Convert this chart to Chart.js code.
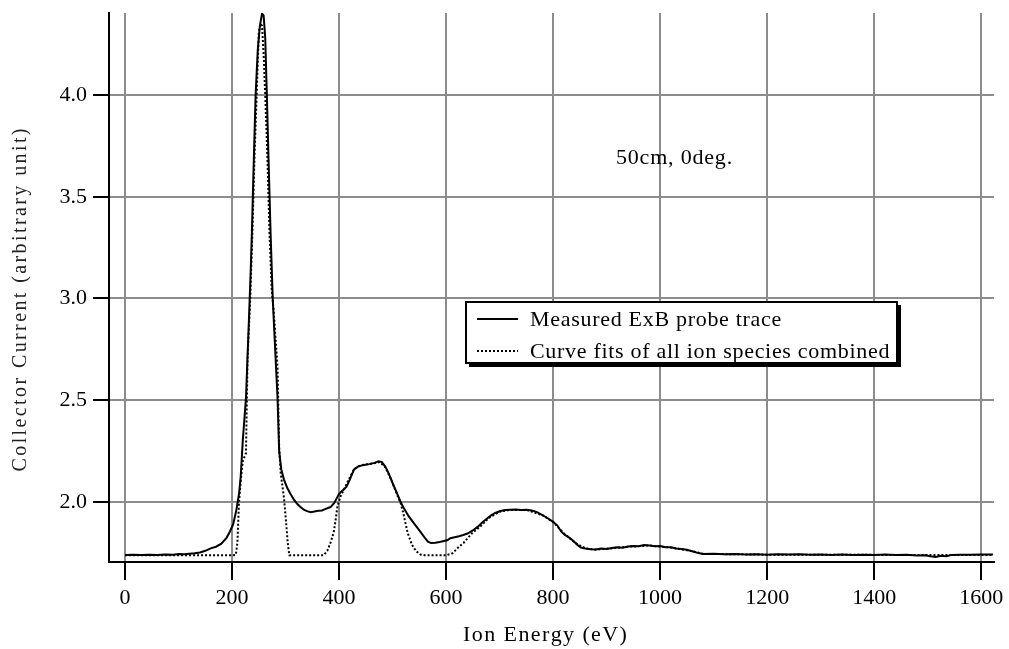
<!DOCTYPE html>
<html>
<head>
<meta charset="utf-8">
<script src="https://cdn.jsdelivr.net/npm/chart.js@4/dist/chart.umd.min.js"></script>
<style>
  body { margin: 0; background: #fff; }
  canvas { display: block; }
</style>
</head>
<body>
<canvas id="exbChart" width="1009" height="649"></canvas>
<script>
// measured ExB probe trace
const measuredE = [0, 15, 30, 45, 60, 75, 90, 100, 110, 120, 130, 140, 150, 160, 170, 180, 190, 196, 202, 208,
    213, 216, 220, 226, 229, 232, 235, 237, 240, 244, 248, 252, 256, 259, 262, 265, 268, 272, 276, 280, 285,
    288, 292, 297, 303, 309, 316, 322, 328, 334, 340, 347, 354, 361, 368, 375, 384, 391, 396, 400, 408,
    414, 420, 428, 436, 446, 456, 466, 474, 480, 486, 491, 496, 502, 508, 515, 522, 530, 540, 550, 560,
    566, 572, 580, 588, 596, 602, 608, 616, 624, 632, 640, 650, 660, 668, 676, 684, 692, 700, 710, 720,
    730, 740, 750, 760, 770, 780, 790, 800, 808, 815, 822, 830, 838, 845, 852, 860, 870, 880, 890, 900,
    910, 920, 930, 940, 950, 960, 970, 980, 990, 1000, 1010, 1020, 1030, 1040, 1050, 1060, 1070, 1080, 1100, 1120,
    1140, 1160, 1180, 1200, 1220, 1240, 1260, 1280, 1300, 1320, 1340, 1360, 1380, 1400, 1420, 1440, 1460, 1480, 1495, 1505,
    1515, 1525, 1535, 1545, 1560, 1580, 1600, 1622];
const measuredI = [1.740, 1.741, 1.739, 1.741, 1.740, 1.742, 1.741, 1.744, 1.743, 1.746, 1.748, 1.752, 1.760, 1.772, 1.780, 1.795, 1.825, 1.855, 1.890, 1.960,
    2.040, 2.120, 2.300, 2.510, 2.720, 2.930, 3.150, 3.320, 3.620, 4.000, 4.220, 4.340, 4.400, 4.390, 4.280, 4.000, 3.700, 3.320, 3.000, 2.780, 2.510,
    2.250, 2.160, 2.110, 2.070, 2.040, 2.010, 1.990, 1.975, 1.962, 1.955, 1.950, 1.953, 1.957, 1.958, 1.966, 1.975, 1.995, 2.020, 2.040, 2.060,
    2.075, 2.110, 2.160, 2.175, 2.182, 2.186, 2.192, 2.200, 2.196, 2.175, 2.150, 2.120, 2.080, 2.045, 2.000, 1.965, 1.930, 1.895, 1.860, 1.825,
    1.805, 1.798, 1.800, 1.803, 1.808, 1.812, 1.822, 1.827, 1.832, 1.838, 1.845, 1.860, 1.880, 1.900, 1.918, 1.934, 1.946, 1.954, 1.960, 1.962,
    1.963, 1.961, 1.962, 1.958, 1.950, 1.936, 1.920, 1.902, 1.884, 1.855, 1.838, 1.825, 1.808, 1.790, 1.776, 1.771, 1.768, 1.767, 1.771, 1.769,
    1.774, 1.777, 1.775, 1.781, 1.784, 1.782, 1.788, 1.786, 1.783, 1.784, 1.778, 1.777, 1.771, 1.769, 1.765, 1.758, 1.750, 1.744, 1.745, 1.743,
    1.744, 1.742, 1.743, 1.741, 1.743, 1.742, 1.743, 1.741, 1.742, 1.740, 1.742, 1.739, 1.741, 1.740, 1.742, 1.739, 1.741, 1.737, 1.738, 1.733,
    1.730, 1.736, 1.733, 1.740, 1.741, 1.741, 1.742, 1.742];

// curve fits of all ion species combined
const fitE = [0, 100, 200, 207, 210, 213, 216, 220, 226, 229, 234, 238, 242, 246, 250, 253, 256, 259, 262, 266,
    270, 274, 278, 285, 288, 291, 297, 301, 304, 307, 340, 371, 378, 384, 390, 394, 397, 403, 409, 418,
    428, 440, 456, 468, 476, 486, 496, 505, 510, 515, 520, 528, 536, 544, 552, 560, 600, 612, 622, 633,
    648, 664, 680, 700, 720, 750, 780, 800, 820, 840, 860, 880, 900, 940, 980, 1020, 1060, 1080, 1200, 1400,
    1622];
const fitI = [1.738, 1.738, 1.738, 1.740, 1.800, 2.000, 2.100, 2.200, 2.240, 2.710, 3.000, 3.320, 3.700, 4.000, 4.310, 4.350, 4.340, 4.200, 4.000, 3.700,
    3.320, 3.050, 2.930, 2.660, 2.270, 2.140, 2.020, 1.900, 1.800, 1.738, 1.738, 1.738, 1.760, 1.800, 1.850, 1.920, 1.980, 2.030, 2.060, 2.110,
    2.160, 2.180, 2.186, 2.192, 2.196, 2.172, 2.118, 2.060, 2.025, 1.995, 1.945, 1.850, 1.790, 1.758, 1.742, 1.738, 1.738, 1.748, 1.775, 1.800,
    1.845, 1.880, 1.922, 1.952, 1.961, 1.961, 1.935, 1.902, 1.846, 1.802, 1.772, 1.766, 1.770, 1.780, 1.786, 1.776, 1.758, 1.745, 1.741, 1.740,
    1.740];

const energyTicks = [0, 200, 400, 600, 800, 1000, 1200, 1400, 1600];
const currentTicks = [2.0, 2.5, 3.0, 3.5, 4.0];
const legendLabels = ["Measured ExB probe trace", "Curve fits of all ion species combined"];
const noteText = "50cm, 0deg.";
const xTitle = "Ion Energy (eV)";
const yTitle = "Collector Current (arbitrary unit)";

const serif = "'Liberation Serif', 'Times New Roman', serif";
const gridGray = "#8c8c8c";

function zip(xs, ys) {
    return xs.map((x, i) => ({x: x, y: ys[i]}));
}

// draw text char by char with extra spacing (the original rendering is wide)
function drawSpaced(ctx, text, x, y, spacing, align) {
    let w = 0;
    for (const ch of text) w += ctx.measureText(ch).width + spacing;
    w -= spacing;
    let cx = align === "center" ? x - w / 2 : x;
    for (const ch of text) {
        ctx.fillText(ch, cx, y);
        cx += ctx.measureText(ch).width + spacing;
    }
}

const extras = {
    id: "extras",
    afterDraw(chart) {
        const ctx = chart.ctx;
        ctx.save();
        ctx.textAlign = "left";
        ctx.textBaseline = "alphabetic";

        // legend box with drop shadow
        ctx.fillStyle = "#000";
        ctx.fillRect(469, 305, 432, 62);
        ctx.fillStyle = "#fff";
        ctx.fillRect(466, 302, 431, 61);
        ctx.strokeStyle = "#000";
        ctx.lineWidth = 2;
        ctx.strokeRect(466, 302, 431, 61);

        ctx.beginPath();
        ctx.moveTo(477, 319);
        ctx.lineTo(518, 319);
        ctx.stroke();
        ctx.setLineDash([2, 2]);
        ctx.beginPath();
        ctx.moveTo(477, 351);
        ctx.lineTo(518, 351);
        ctx.stroke();
        ctx.setLineDash([]);

        ctx.fillStyle = "#000";
        ctx.font = "22px " + serif;
        drawSpaced(ctx, legendLabels[0], 530, 326, 0.7, "left");
        drawSpaced(ctx, legendLabels[1], 530, 358, 0.7, "left");

        // annotation
        drawSpaced(ctx, noteText, 616, 164, 0.8, "left");

        // axis titles
        drawSpaced(ctx, xTitle, 545, 641, 1.4, "center");

        ctx.translate(21, 300);
        ctx.rotate(-Math.PI / 2);
        ctx.font = "20px " + serif;
        ctx.fillStyle = "#222";
        ctx.textBaseline = "middle";
        drawSpaced(ctx, yTitle, 0, 0, 2.4, "center");
        ctx.restore();
    }
};

new Chart(document.getElementById("exbChart"), {
    type: "line",
    data: {
        datasets: [
            {
                label: legendLabels[0],
                data: zip(measuredE, measuredI),
                borderColor: "#000",
                borderWidth: 2,
                pointRadius: 0,
                tension: 0
            },
            {
                label: legendLabels[1],
                data: zip(fitE, fitI),
                borderColor: "#000",
                borderWidth: 2,
                borderDash: [2, 2],
                pointRadius: 0,
                tension: 0
            }
        ]
    },
    options: {
        responsive: false,
        animation: false,
        events: [],
        layout: {padding: {top: 13, right: 15, left: 0, bottom: 0}},
        plugins: {
            legend: {display: false},
            tooltip: {enabled: false}
        },
        scales: {
            x: {
                type: "linear",
                min: -30,
                max: 1624,
                afterBuildTicks: (s) => { s.ticks = energyTicks.map(v => ({value: v})); },
                afterFit: (s) => { s.height = 87; s.paddingLeft = 0; s.paddingRight = 0; },
                ticks: {
                    color: "#000",
                    font: {family: serif, size: 22},
                    padding: 5,
                    maxRotation: 0,
                    autoSkip: false,
                    callback: (v) => String(v)
                },
                grid: {
                    color: gridGray,
                    lineWidth: 2,
                    tickColor: "#000",
                    tickLength: 18,
                    tickWidth: 2
                },
                border: {color: "#000", width: 2}
            },
            y: {
                min: 1.705,
                max: 4.403,
                afterBuildTicks: (s) => { s.ticks = currentTicks.map(v => ({value: v})); },
                afterFit: (s) => { s.width = 109; s.paddingTop = 0; s.paddingBottom = 0; },
                ticks: {
                    color: "#000",
                    font: {family: serif, size: 22},
                    padding: 6,
                    callback: (v) => v.toFixed(1)
                },
                grid: {
                    color: gridGray,
                    lineWidth: 2,
                    tickColor: "#000",
                    tickLength: 16,
                    tickWidth: 2
                },
                border: {color: "#000", width: 2}
            }
        }
    },
    plugins: [extras]
});
</script>
</body>
</html>
